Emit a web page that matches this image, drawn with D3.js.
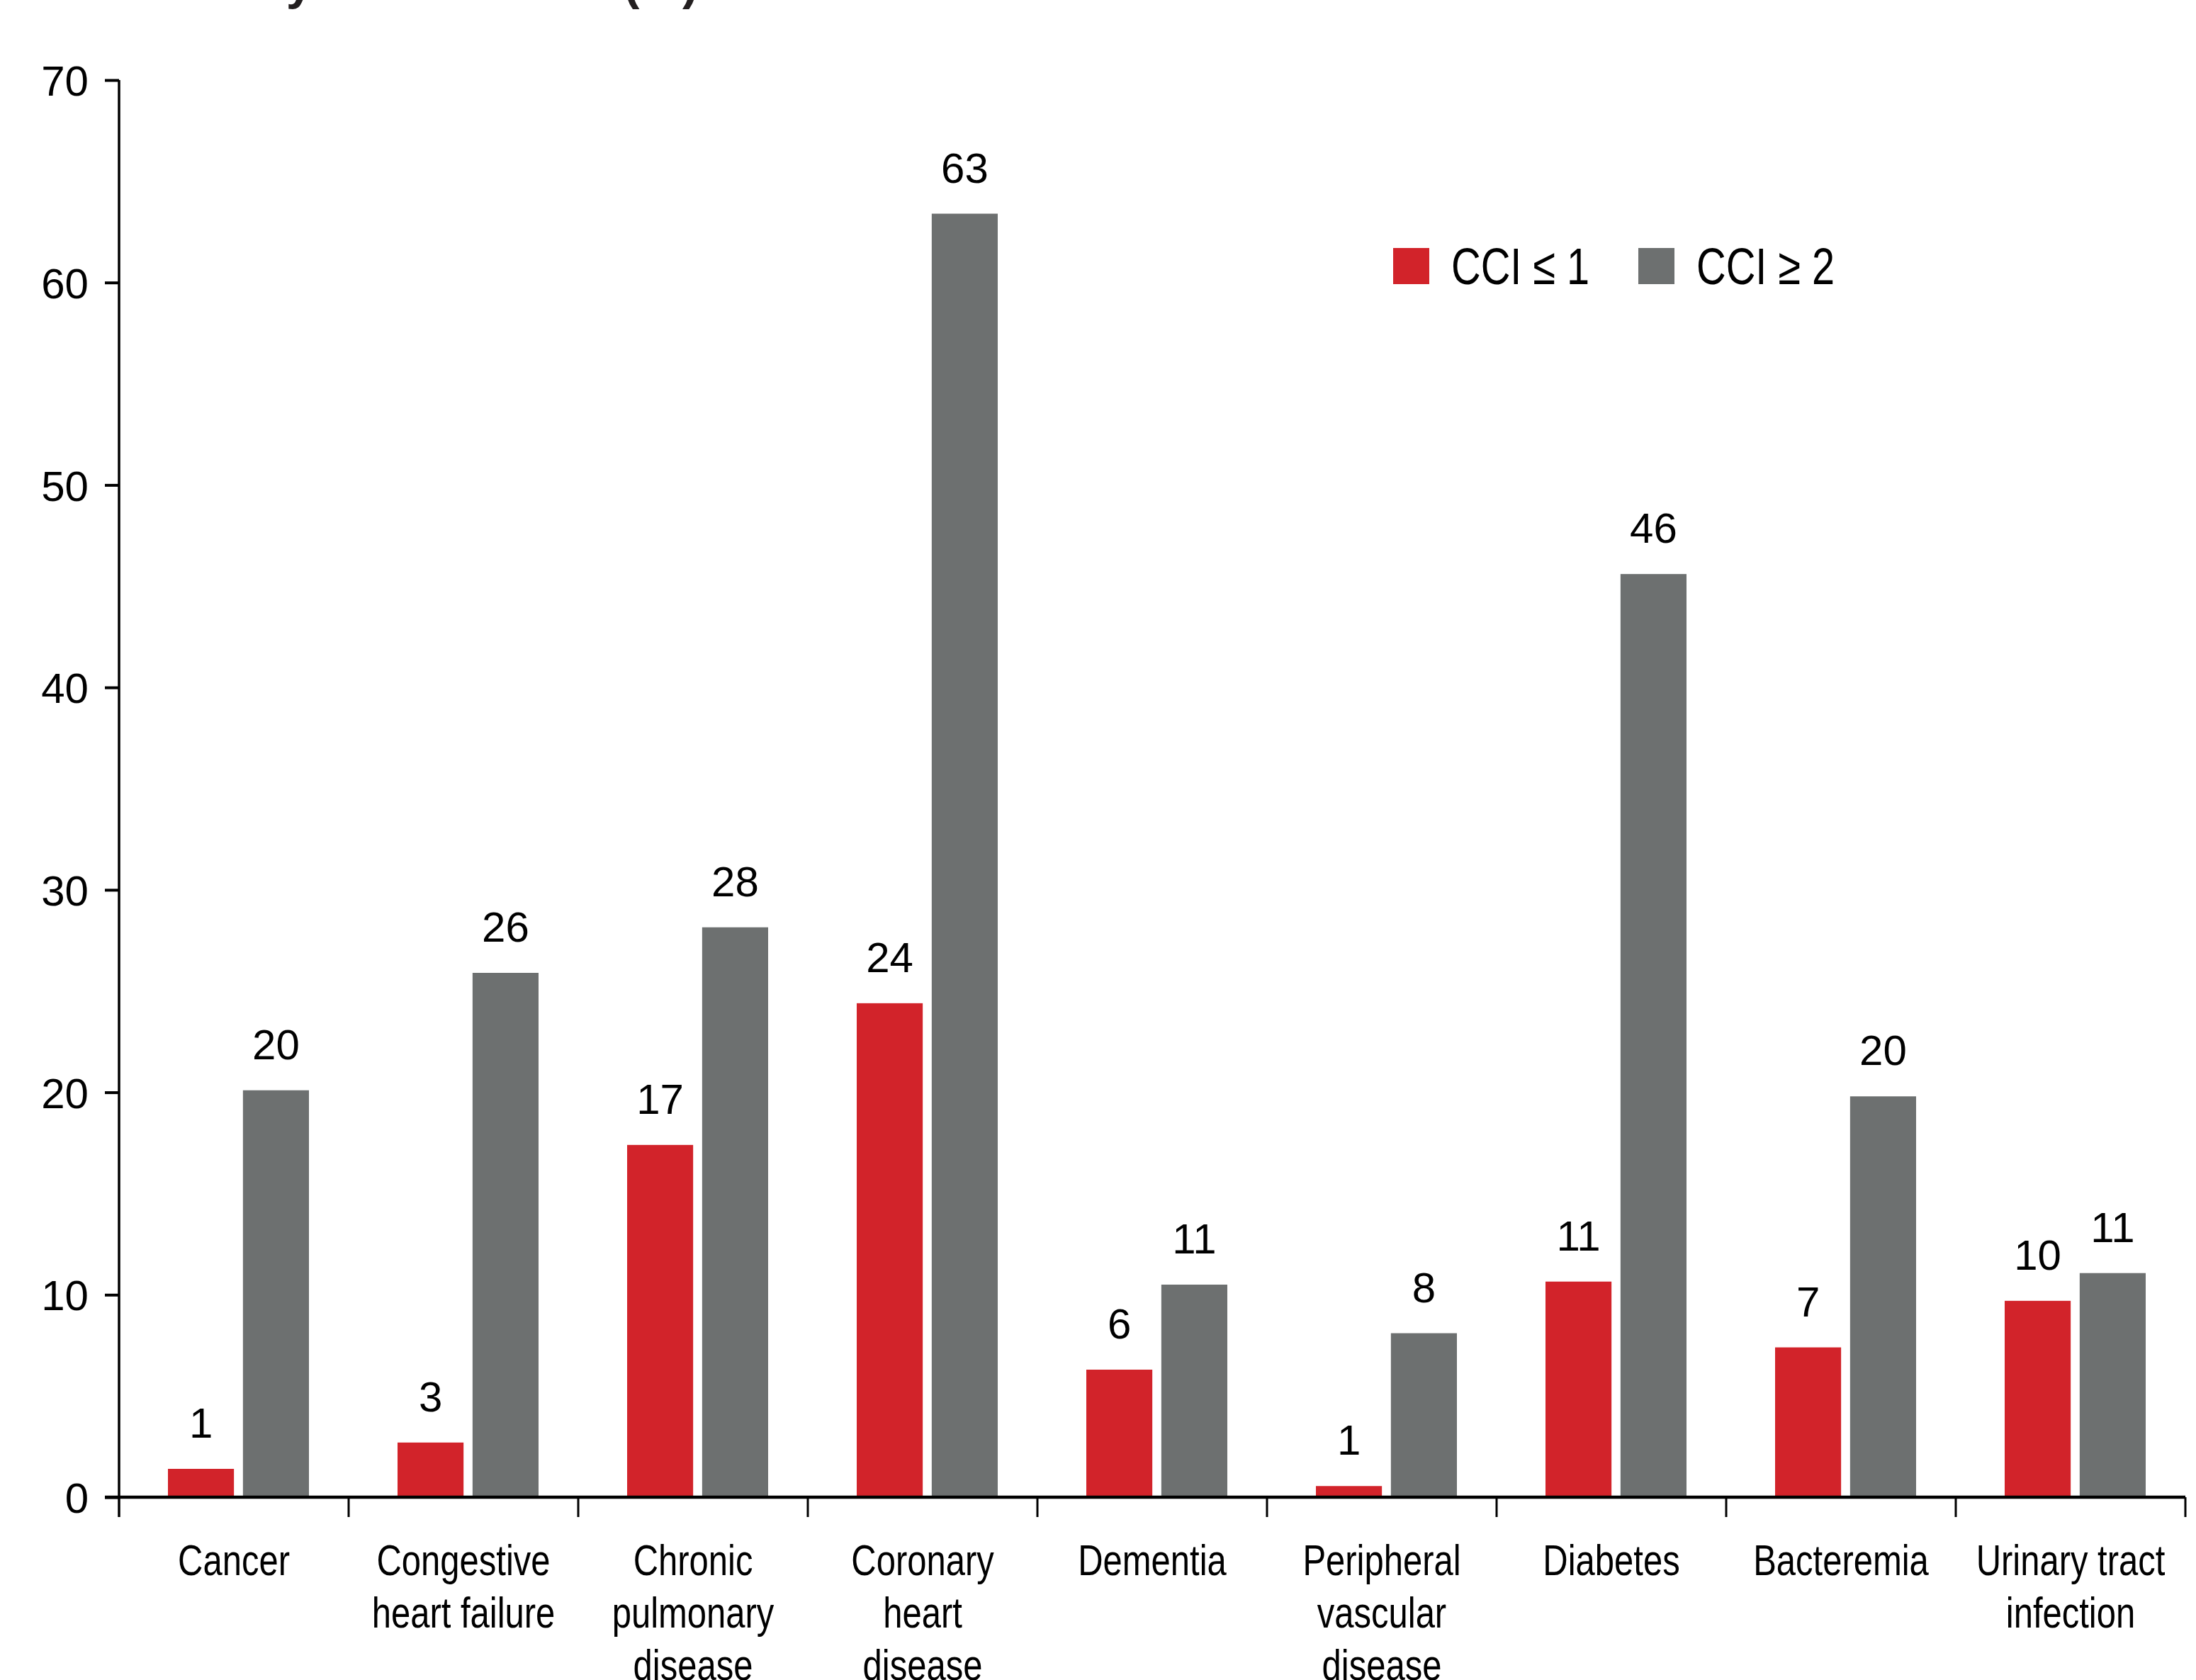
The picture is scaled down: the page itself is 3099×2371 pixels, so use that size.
<!DOCTYPE html>
<html>
<head>
<meta charset="utf-8">
<script src="https://cdn.jsdelivr.net/npm/d3@7"></script>
<style>
  body { margin: 0; background: #fff; }
  text { font-family: 'Liberation Sans', Arial, Helvetica, sans-serif; fill: #000; }
</style>
</head>
<body>
<div id="chart"></div>
<script>
var categories = ['Cancer', 'Congestive heart failure', 'Chronic pulmonary disease',
  'Coronary heart disease', 'Dementia', 'Peripheral vascular disease',
  'Diabetes', 'Bacteremia', 'Urinary tract infection']

// how each category label wraps under the axis
var categoryLines = [
  ['Cancer'], ['Congestive', 'heart failure'], ['Chronic', 'pulmonary', 'disease'],
  ['Coronary', 'heart', 'disease'], ['Dementia'], ['Peripheral', 'vascular', 'disease'],
  ['Diabetes'], ['Bacteremia'], ['Urinary tract', 'infection']
]

var seriesNames = ['CCI ≤ 1', 'CCI ≥ 2']
var lowCci = [1.4, 2.7, 17.4, 24.4, 6.3, 0.55, 10.65, 7.4, 9.7]
var highCci = [20.1, 25.9, 28.15, 63.4, 10.5, 8.1, 45.6, 19.8, 11.07]
var yTicks = [0, 10, 20, 30, 40, 50, 60, 70]
var titleText = '30-day readmission (%)'

var width = 3099
var height = 2371
var margin = { top: 113, left: 168, right: 15, bottom: 258 }

var svg = d3.select('#chart')
  .append('svg')
  .attr('width', width)
  .attr('height', height)

// scales
var x0 = d3.scaleBand()
  .domain(categories)
  .range([margin.left, width - margin.right])
  .padding(0)

var x1 = d3.scaleBand()
  .domain(seriesNames)
  .range([69, 268])
  .paddingInner(0.12)

var y = d3.scaleLinear()
  .domain([0, 70])
  .range([height - margin.bottom, margin.top])

var colorScale = d3.scaleOrdinal()
  .domain(seriesNames)
  .range(['#d2232a', '#6d7070'])

// title, cut off at the top edge so only descenders show
svg.append('text')
  .attr('x', 226)
  .attr('y', -1)
  .attr('font-size', 68)
  .attr('font-weight', 'bold')
  .style('fill', '#231f20')
  .text(titleText)

// bars
var rows = categories.map(function(c, i) {
  return { cat: c, values: [
    { series: seriesNames[0], value: lowCci[i] },
    { series: seriesNames[1], value: highCci[i] }
  ] }
})

var groups = svg.selectAll('.cat')
  .data(rows)
  .enter()
  .append('g')
  .attr('class', 'cat')
  .attr('transform', d => `translate(${x0(d.cat)},0)`)

groups.selectAll('rect')
  .data(d => d.values)
  .enter()
  .append('rect')
  .attr('x', d => x1(d.series))
  .attr('width', x1.bandwidth())
  .attr('y', d => y(d.value))
  .attr('height', d => y(0) - y(d.value))
  .attr('fill', d => colorScale(d.series))

groups.selectAll('.val')
  .data(d => d.values)
  .enter()
  .append('text')
  .attr('class', 'val')
  .attr('x', d => x1(d.series) + x1.bandwidth() / 2)
  .attr('y', d => y(d.value) - 44)
  .attr('text-anchor', 'middle')
  .attr('font-size', 60)
  .text(d => Math.round(d.value))

// y axis
var yAxis = d3.axisLeft(y)
  .tickValues(yTicks)
  .tickSize(20)
  .tickSizeOuter(0)
  .tickPadding(23)

var yAxisG = svg.append('g')
  .attr('transform', `translate(${margin.left},0)`)
  .call(yAxis)

yAxisG.select('.domain').remove()
yAxisG.selectAll('.tick line').attr('stroke', '#000').attr('stroke-width', 4)
yAxisG.selectAll('.tick text')
  .attr('font-size', 60)
  .attr('dy', '0.36em')
  .style('font-family', "'Liberation Sans', Arial, Helvetica, sans-serif")

var tickDown = 28

svg.append('line')
  .attr('x1', margin.left)
  .attr('x2', margin.left)
  .attr('y1', y(70))
  .attr('y2', y(0) + tickDown)
  .attr('stroke', '#000')
  .attr('stroke-width', 3.5)

// x axis line and category dividers
svg.append('line')
  .attr('x1', margin.left - 20)
  .attr('x2', x0.range()[1])
  .attr('y1', y(0))
  .attr('y2', y(0))
  .attr('stroke', '#000')
  .attr('stroke-width', 4.5)

var dividers = categories.slice(1).map(c => x0(c)).concat([x0.range()[1]])

svg.selectAll('.divider')
  .data(dividers)
  .enter()
  .append('line')
  .attr('class', 'divider')
  .attr('x1', d => d)
  .attr('x2', d => d)
  .attr('y1', y(0))
  .attr('y2', y(0) + tickDown)
  .attr('stroke', '#000')
  .attr('stroke-width', 3)

// category labels, condensed look
var labelG = svg.selectAll('.cat-label')
  .data(categories)
  .enter()
  .append('g')
  .attr('class', 'cat-label')

labelG.each(function(c, i) {
  var g = d3.select(this)
  categoryLines[i].forEach(function(line, j) {
    g.append('text')
      .attr('transform', `translate(${x0(c) + x0.bandwidth() / 2},${y(0) + 110 + j * 74}) scale(0.79,1)`)
      .attr('text-anchor', 'middle')
      .attr('font-size', 62)
      .text(line)
  })
})

// legend
var legendX = [1966, 2312]

var legend = svg.selectAll('.legend')
  .data(seriesNames)
  .enter()
  .append('g')
  .attr('class', 'legend')
  .attr('transform', (d, i) => `translate(${legendX[i]},350)`)

legend.append('rect')
  .attr('width', 51)
  .attr('height', 51)
  .attr('fill', d => colorScale(d))

legend.append('text')
  .attr('transform', 'translate(82,51) scale(0.79,1)')
  .attr('font-size', 73)
  .text(d => d)
</script>
</body>
</html>
